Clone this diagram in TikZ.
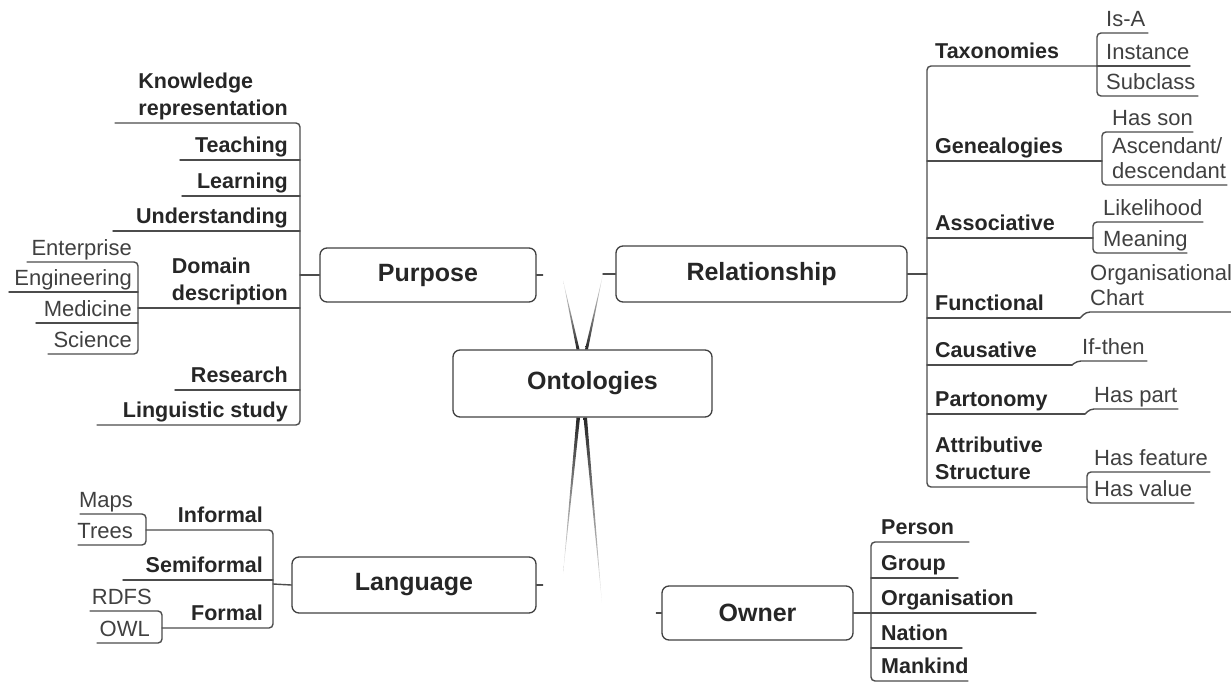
\documentclass[tikz,border=0pt]{standalone}
\usepackage{fontspec}
\setmainfont{Liberation Sans}
\usetikzlibrary{calc}

\begin{document}
\begin{tikzpicture}[x=1pt, y=-1pt, line join=round, line cap=round,
  hub/.style={draw=black!75, line width=1.3pt, rounded corners=7pt, inner sep=0pt, font=\bfseries\fontsize{25}{30}\selectfont, text=black!85},
  cat/.style={inner sep=0pt, text depth=5pt, align=left, font=\bfseries\fontsize{21.5}{27}\selectfont, text=black!85},
  leaf/.style={inner sep=0pt, text depth=5pt, align=left, font=\fontsize{22}{25.5}\selectfont, text=black!75},
  wire/.style={draw=black!70, line width=1.4pt, rounded corners=4pt}]
\useasboundingbox (0,0) rectangle (1231,682);

% hub boxes
\node[hub, minimum width=259pt, minimum height=67pt, execute at begin node={\hspace*{20pt}}] (onto) at (582.5,383.5) {Ontologies};
\node[hub, minimum width=216pt, minimum height=54pt] (purp) at (428,275) {Purpose};
\node[hub, minimum width=291pt, minimum height=56pt] (rel) at (761.5,274) {Relationship};
\node[hub, minimum width=244pt, minimum height=56pt] (lang) at (414,585) {Language};
\node[hub, minimum width=191pt, minimum height=54pt] (own) at (757.5,613) {Owner};

% tapered spokes
\coordinate (tP) at (563,280);
\coordinate (tR) at (603,274);
\coordinate (tL) at (563,574);
\coordinate (tO) at (602,603);
\shade[top color=black!5, bottom color=black!85] ([xshift=-6pt]onto.north) -- ([xshift=-3pt]onto.north) -- (tP) -- cycle;
\shade[top color=black!5, bottom color=black!85] ([xshift=2.5pt]onto.north) -- ([xshift=5.5pt]onto.north) -- (tR) -- cycle;
\shade[top color=black!85, bottom color=black!5] ([xshift=-6pt]onto.south) -- ([xshift=-2.5pt]onto.south) -- (tL) -- cycle;
\shade[top color=black!85, bottom color=black!5] ([xshift=1pt]onto.south) -- ([xshift=4.5pt]onto.south) -- (tO) -- cycle;
\draw[wire] (tR) -- (rel.west);
\draw[wire] (purp.east) -- ++(6,0);
\draw[wire] (lang.east) -- ++(6,0);
\draw[wire] (own.west) -- ++(-5,0);

% Purpose
\coordinate (pv) at (300,275);
\foreach \n/\txt/\y/\xl in {kr/{Knowledge\\representation}/123/115, tea/Teaching/160/180, lea/Learning/196/182, und/Understanding/231/113, dom/{Domain\\description}/308/138, res/Research/390/175, lin/Linguistic study/425/97}
{ \node[cat, anchor=south east] (\n) at (288,\y-2) {\txt};
  \coordinate (\n-l) at (\xl,\y); }
\draw[wire] (kr-l) -- (pv |- kr-l) -- (pv |- lin-l) -- (lin-l);
\foreach \n in {tea,lea,und,dom,res} \draw[wire] (\n-l) -- (pv |- \n-l);
\draw[wire] (pv) -- (purp.west);
\foreach \n/\txt/\y/\xl in {ent/Enterprise/262/27, eng/Engineering/292/9, med/Medicine/323/36, sci/Science/354/48}
{ \node[leaf, anchor=south east] (\n) at (132,\y-1) {\txt};
  \coordinate (\n-l) at (\xl,\y); }
\draw[wire] (ent-l) -- (dom-l |- ent-l) -- (dom-l |- sci-l) -- (sci-l);
\foreach \n in {eng,med} \draw[wire] (\n-l) -- (dom-l |- \n-l);

% Language
\coordinate (lv) at (273,584);
\foreach \n/\txt/\y/\xl in {inf/Informal/530/146, semi/Semiformal/580/123, frm/Formal/628/162}
{ \node[cat, anchor=south east] (\n) at (263,\y-2) {\txt};
  \coordinate (\n-l) at (\xl,\y); }
\draw[wire] (inf-l) -- (lv |- inf-l) -- (lv |- frm-l) -- (frm-l);
\draw[wire] (semi-l) -- (lv |- semi-l);
\draw[wire] (lv) -- (lang.west);
\foreach \n/\txt/\x/\y/\xl in {maps/Maps/133/514/80, trees/Trees/133/545/78, rdfs/RDFS/152/611/90, owl/OWL/150/643/97}
{ \node[leaf, anchor=south east] (\n) at (\x,\y-1) {\txt};
  \coordinate (\n-l) at (\xl,\y); }
\draw[wire] (maps-l) -- (inf-l |- maps-l) -- (inf-l |- trees-l) -- (trees-l);
\draw[wire] (rdfs-l) -- (frm-l |- rdfs-l) -- (frm-l |- owl-l) -- (owl-l);

% Relationship
\coordinate (rv) at (927,274);
\foreach \n/\txt/\y/\xr in {tax/Taxonomies/66/1097, gen/Genealogies/161/1102, ass/Associative/238/1093, fun/Functional/318/1080, cau/Causative/365/1072, par/Partonomy/414/1085, att/{Attributive\\Structure}/487/1087}
{ \node[cat, anchor=south west] (\n) at (935,\y-2) {\txt};
  \coordinate (\n-r) at (\xr,\y); }
\draw[wire] (tax-r) -- (rv |- tax-r) -- (rv |- att-r) -- (att-r);
\foreach \n in {gen,ass,fun,cau,par} \draw[wire] (rv |- \n-r) -- (\n-r);
\draw[wire] (rel.east) -- (rv);
\foreach \n/\txt/\x/\y/\xr in {isa/Is-A/1106/33/1148, ins/Instance/1106/66/1190, sub/Subclass/1106/96/1198, son/Has son/1112/132/1193, asc/{Ascendant/\\descendant}/1112/185/1227, lik/Likelihood/1103/222/1203, mea/Meaning/1103/253/1187, org/{Organisational\\Chart}/1090/312/1231, ift/If-then/1082/361/1147, hpa/Has part/1094/409/1178, hfe/Has feature/1094/472/1210, hva/Has value/1094/503/1194}
{ \node[leaf, anchor=south west] (\n) at (\x,\y-1) {\txt};
  \coordinate (\n-r) at (\xr,\y); }
\draw[wire] (isa-r) -- (tax-r |- isa-r) -- (tax-r |- sub-r) -- (sub-r);
\draw[wire] (tax-r) -- (ins-r);
\draw[wire] (son-r) -- (gen-r |- son-r) -- (gen-r |- asc-r) -- (asc-r);
\draw[wire] (lik-r) -- (ass-r |- lik-r) -- (ass-r |- mea-r) -- (mea-r);
\draw[wire] (hfe-r) -- (att-r |- hfe-r) -- (att-r |- hva-r) -- (hva-r);
\draw[wire] (fun-r) -- ++(6,-6) -- (org-r);
\draw[wire] (cau-r) -- ++(5,-4) -- (ift-r);
\draw[wire] (par-r) -- ++(5,-5) -- (hpa-r);

% Owner
\coordinate (ov) at (871,613);
\foreach \n/\txt/\y/\xr in {per/Person/542/969, grp/Group/578/958, orn/Organisation/613/1036, nat/Nation/648/962, man/Mankind/681/968}
{ \node[cat, anchor=south west] (\n) at (881,\y-2) {\txt};
  \coordinate (\n-r) at (\xr,\y); }
\draw[wire] (per-r) -- (ov |- per-r) -- (ov |- man-r) -- (man-r);
\foreach \n in {grp,nat} \draw[wire] (ov |- \n-r) -- (\n-r);
\draw[wire] (own.east) -- (orn-r);
\end{tikzpicture}
\end{document}
